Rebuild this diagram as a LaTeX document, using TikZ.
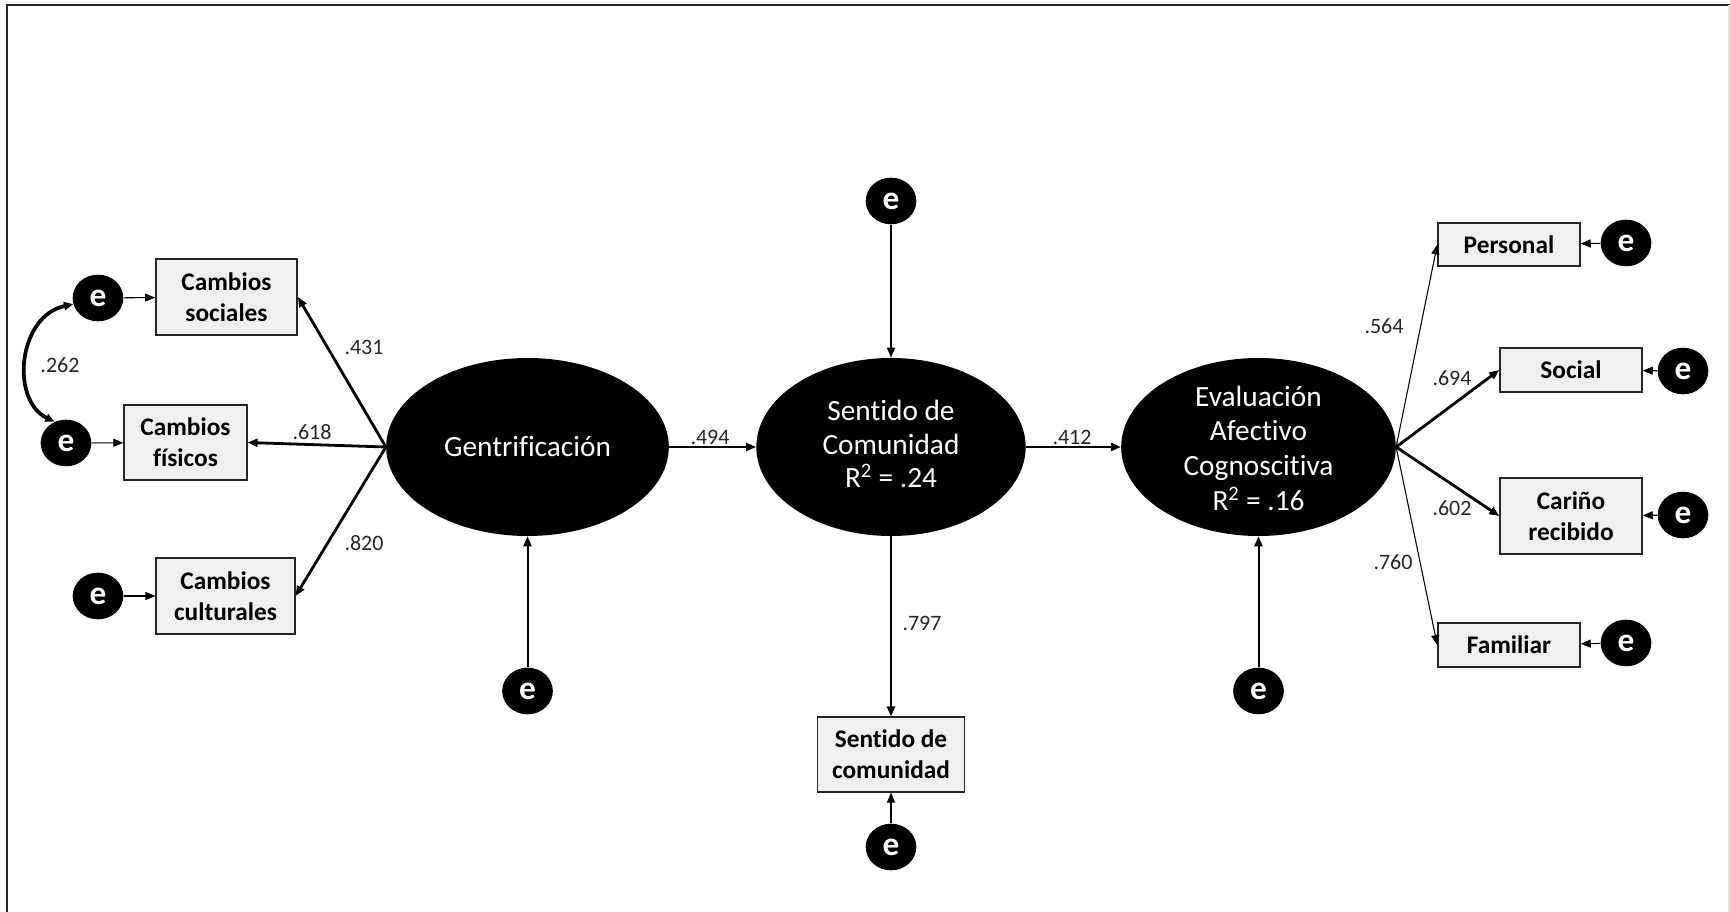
\documentclass[tikz,border=0pt]{standalone}
\usepackage{fontspec}
\setmainfont{Carlito}[Ligatures=NoCommon]
\usetikzlibrary{arrows.meta,shapes.geometric}
\begin{document}
\begin{tikzpicture}[x=0.75pt,y=-0.75pt,
  tipd/.style={-{Triangle[length=7.5pt,width=6pt]}},
  thinln/.style={tipd, line width=0.8pt},
  midln/.style={tipd, line width=1.5pt},
  thickln/.style={tipd, line width=2.1pt},
  obs/.style={rectangle, draw=black!85, line width=1.1pt, fill=black!6,
    font=\fontsize{19}{23}\selectfont\bfseries, align=center, inner sep=0pt},
  latent/.style={ellipse, fill=black, inner sep=0pt},
  lattext/.style={text=white, font=\fontsize{22}{25}\selectfont, align=center, inner sep=0pt},
  err/.style={ellipse, fill=black, text=white, font=\fontsize{25}{25}\selectfont\bfseries,
    minimum width=38pt, minimum height=35pt, inner sep=0pt},
  coef/.style={font=\fontsize{16.5}{19}\selectfont, text=black!85, inner sep=0pt}
]
\useasboundingbox (0,0) rectangle (1730,912);
% outer frame
\draw[line width=1.6pt, black!85] (7,912) -- (7,5) -- (1730,5);
\draw[line width=0.8pt, black!12] (1729,5) -- (1729,912);

% latent variables
\node[latent, minimum width=212pt, minimum height=133.5pt] (gen) at (527.5,447) {};
\node[lattext] (gent) at (gen) {Gentrificación};
\node[latent, minimum width=202pt, minimum height=133.5pt] (sen) at (891,447) {};
\node[lattext] (sent) at (891,444) {Sentido de\\Comunidad\\R\textsuperscript{2} = .24};
\node[latent, minimum width=206pt, minimum height=133.5pt] (ev) at (1258.5,447) {};
\node[lattext, font=\fontsize{22}{26}\selectfont] (evt) at (1258.5,448) {Evaluación\\Afectivo\\Cognoscitiva\\R\textsuperscript{2} = .16};

% observed indicators
\node[obs, minimum width=106pt, minimum height=57pt] (cs) at (226.5,297) {Cambios\\sociales};
\node[obs, minimum width=92pt, minimum height=56pt] (cf) at (185.5,442.5) {Cambios\\físicos};
\node[obs, minimum width=104pt, minimum height=57pt] (cc) at (225.5,596) {Cambios\\culturales};
\node[obs, minimum width=110pt, minimum height=56pt] (sc) at (891,754.5) {Sentido de\\comunidad};
\node[obs, minimum width=106.5pt, minimum height=32.5pt] (per) at (1509,244.5) {Personal};
\node[obs, minimum width=106.5pt, minimum height=33pt] (soc) at (1571,370) {Social};
\node[obs, minimum width=106.5pt, minimum height=57pt] (car) at (1571,516) {Cariño\\recibido};
\node[obs, minimum width=106.5pt, minimum height=33pt] (fam) at (1509,645) {Familiar};

% error terms
\node[err] (e1) at (98,298) {e};
\node[err] (e2) at (66,443) {e};
\node[err] (e3) at (98,596) {e};
\node[err] (eg) at (527.5,691) {e};
\node[err] (es) at (891,201) {e};
\node[err] (esc) at (891,847) {e};
\node[err] (eev) at (1258.5,691) {e};
\node[err] (ep) at (1626,243) {e};
\node[err] (eso) at (1683,371) {e};
\node[err] (eca) at (1683,515) {e};
\node[err] (efa) at (1626,643) {e};

% error paths
\draw[thinln] (e1) -- (cs);
\draw[thinln] (e2) -- (cf);
\draw[thinln] (e3) -- (cc);
\draw[midln] (eg) -- (gen);
\draw[thinln] (es) -- (sen);
\draw[thinln] (esc) -- (sc);
\draw[midln] (eev) -- (ev);
\draw[thinln] (ep) -- (per);
\draw[thinln] (eso) -- (soc);
\draw[thinln] (eca) -- (car);
\draw[thinln] (efa) -- (fam);

% covariance between errors
\draw[{Triangle[length=7pt,width=6pt]}-{Triangle[length=7pt,width=6pt]}, line width=2.8pt]
  (e2.118) .. controls (10,400) and (18,316) .. (e1.194);

% loadings and structural paths
\draw[thickln] (gen.west) -- (cs.east);
\draw[thickln] (gen.west) -- (cf.east);
\draw[thickln] (gen.west) -- (cc.east);
\draw[midln] (gen.east) -- (sen.west);
\draw[midln] (sen.east) -- (ev.west);
\draw[thickln] (sen.south) -- (sc.north);
\draw[thinln] (ev.east) -- (per.west);
\draw[thickln] (ev.east) -- (soc.west);
\draw[thickln] (ev.east) -- (car.west);
\draw[thinln] (ev.east) -- (fam.west);

% coefficients
\node[coef] (c262) at (60,365) {.262};
\node[coef] (c431) at (364,347) {.431};
\node[coef] (c618) at (312,432) {.618};
\node[coef] (c820) at (364,543) {.820};
\node[coef] (c494) at (710,437) {.494};
\node[coef] (c412) at (1072,437) {.412};
\node[coef] (c797) at (922,623) {.797};
\node[coef] (c564) at (1384,326) {.564};
\node[coef] (c694) at (1452,378) {.694};
\node[coef] (c602) at (1452,508) {.602};
\node[coef] (c760) at (1393,562) {.760};
\end{tikzpicture}
\end{document}
